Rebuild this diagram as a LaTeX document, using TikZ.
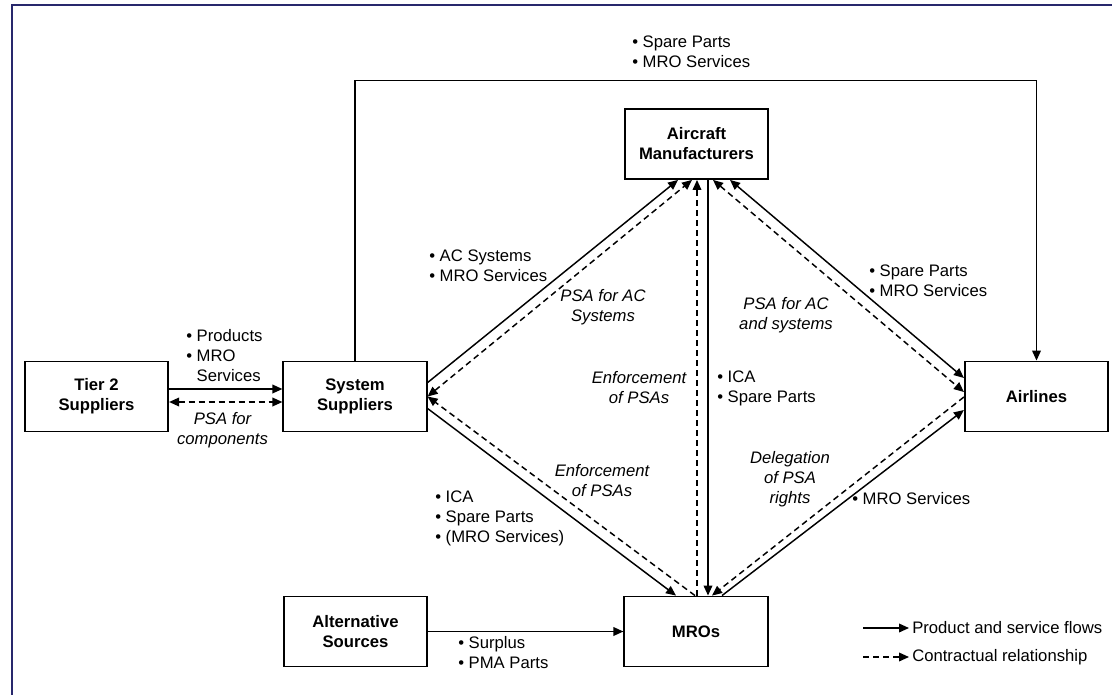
\documentclass[tikz,border=0pt]{standalone}
\usepackage{fontspec}
\setmainfont{Liberation Sans}
\usetikzlibrary{arrows.meta,calc}
\definecolor{framecol}{RGB}{40,40,108}
\begin{document}
\begin{tikzpicture}[x=0.75pt,y=-0.75pt,
  >={Triangle[length=7.5pt,width=6.5pt]},
  font=\fontsize{12.5}{15}\selectfont,
  box/.style={draw,line width=1.4pt,minimum width=107.5pt,minimum height=52.5pt,
    align=center,inner sep=0pt,font=\fontsize{12.5}{15}\selectfont\bfseries},
  flow/.style={line width=1.1pt},
  contract/.style={line width=1.1pt,dash pattern=on 4.5pt off 3pt},
  lbl/.style={inner sep=0pt,align=left,anchor=west},
  note/.style={inner sep=0pt,align=center,font=\fontsize{12.5}{15}\selectfont\itshape}]

\useasboundingbox (0,0) rectangle (1112,695);

% frame lines along the top and left edges
\draw[line width=1.5pt,framecol] (11.5,695) -- (11.5,5) -- (1112,5);

% actors
\node[box] (t2)  at (96.5,396.5) {Tier 2\\Suppliers};
\node[box] (ss)  at (355,396.5)  {System\\Suppliers};
\node[box] (am)  at (696.5,144)  {Aircraft\\Manufacturers};
\node[box] (air) at (1036.5,396.5) {Airlines};
\node[box] (mro) at (696,631.5)  {MROs};
\node[box] (alt) at (355.5,631.5) {Alternative\\Sources};

% tier 2 <-> system suppliers
\draw[flow,->] ($(t2.east)+(0,-7.5)$) -- ($(ss.west)+(0,-7.5)$);
\draw[contract,<->] ($(t2.east)+(0,5.5)$) -- ($(ss.west)+(0,5.5)$);

% system suppliers -> airlines over the top
\draw[flow,->] (ss.north) -- ++(0,-280) -| (air.north);

% system suppliers <-> aircraft manufacturers
\draw[flow,->] ($(ss.north east)+(0,22)$) -- ($(am.south)+(-18.5,0)$);
\draw[contract,<->] (ss.east) -- ($(am.south)+(-4.5,0)$);

% aircraft manufacturers <-> MROs
\draw[contract,->] ($(mro.north)+(1,0)$) -- ($(am.south)+(0.5,0)$);
\draw[flow,->] ($(am.south)+(11.5,0)$) -- ($(mro.north)+(12,0)$);

% aircraft manufacturers <-> airlines
\draw[contract,<->] ($(am.south)+(16.5,0)$) -- ($(air.west)+(0,-4.5)$);
\draw[flow,<->] ($(am.south)+(33.5,0)$) -- ($(air.west)+(0,-18.5)$);

% system suppliers <-> MROs
\draw[flow,->] ($(ss.east)+(0,12)$) -- ($(mro.north)+(-20,0)$);
\draw[contract,->] ($(mro.north)+(-1,0)$) -- (ss.east);

% MROs <-> airlines
\draw[contract,->] ($(air.west)+(0,0.5)$) -- ($(mro.north)+(16,0)$);
\draw[flow,->] ($(mro.north)+(26,0)$) -- ($(air.west)+(0,13.5)$);

% alternative sources -> MROs
\draw[flow,->] (alt.east) -- (mro.west);

% flow labels
\node[lbl] (lp)  at (186,356) {• Products\\• MRO\\\hphantom{•\ }Services};
\node[note] (lpc) at (222.5,430.5) {PSA for\\components};
\node[lbl] (ltop) at (632,52) {• Spare Parts\\• MRO Services};
\node[lbl] (lac) at (429,266) {• AC Systems\\• MRO Services};
\node[note] (lpsa1) at (603,307) {PSA for AC\\Systems};
\node[note] (lpsa2) at (786,315) {PSA for AC\\and systems};
\node[lbl] (lsp) at (869,281) {• Spare Parts\\• MRO Services};
\node[note] (lenf1) at (639,388) {Enforcement\\of PSAs};
\node[lbl] (lica) at (717,388) {• ICA\\• Spare Parts};
\node[note] (ldel) at (790,479) {Delegation\\of PSA\\rights};
\node[lbl] (lmro) at (852,499) {• MRO Services};
\node[note] (lenf2) at (602,481) {Enforcement\\of PSAs};
\node[lbl] (lica2) at (435,518) {• ICA\\• Spare Parts\\• (MRO Services)};
\node[lbl] (lsur) at (458,653) {• Surplus\\• PMA Parts};

% legend
\node[lbl] (lg1) at (912,628) {Product and service flows};
\node[lbl] (lg2) at (912,657) {Contractual relationship};
\draw[flow,->] ($(lg1.west)+(-49,0)$) -- ($(lg1.west)+(-3,0)$);
\draw[contract,->] ($(lg2.west)+(-49,0)$) -- ($(lg2.west)+(-3,0)$);
\end{tikzpicture}
\end{document}
